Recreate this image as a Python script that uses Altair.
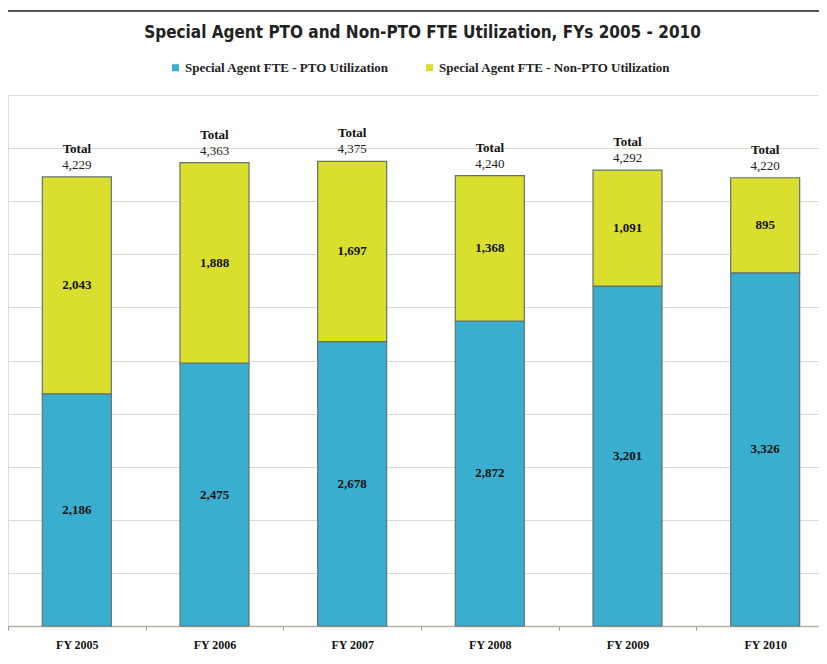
import altair as alt
import pandas as pd

years = ["FY 2005", "FY 2006", "FY 2007", "FY 2008", "FY 2009", "FY 2010"]
pto = [2186, 2475, 2678, 2872, 3201, 3326]
non_pto = [2043, 1888, 1697, 1368, 1091, 895]
totals = [4229, 4363, 4375, 4240, 4292, 4220]
series = ["Special Agent FTE - PTO Utilization", "Special Agent FTE - Non-PTO Utilization"]
colors = ["#3aaecf", "#d9df2c"]

rows = []
for i, y in enumerate(years):
    rows.append({"year": y, "series": series[0], "order": 0, "value": pto[i],
                 "lo": 0, "hi": pto[i], "mid": pto[i] / 2})
    rows.append({"year": y, "series": series[1], "order": 1, "value": non_pto[i],
                 "lo": pto[i], "hi": pto[i] + non_pto[i], "mid": pto[i] + non_pto[i] / 2})
df = pd.DataFrame(rows)
tdf = pd.DataFrame({"year": years, "total": totals})

W, H = 811, 531
SERIF = "Liberation Serif"

x = alt.X("year:N", sort=years, title=None,
          scale=alt.Scale(range=[0, 826], paddingInner=0, paddingOuter=0),
          axis=alt.Axis(labelAngle=0, labelFont=SERIF, labelFontWeight="bold",
                        labelFontSize=12, labelColor="#111", labelPadding=9,
                        tickBand="extent", tickSize=4, tickColor="#999",
                        domainColor="#b5b1a5", domainWidth=1.5, grid=False))
yscale = alt.Scale(domain=[0, 5000], nice=False)
yaxis = alt.Axis(values=list(range(0, 4501, 500)), labels=False, ticks=False,
                 domain=False, grid=True, gridColor="#dddcd1", gridWidth=1.2)

bars = alt.Chart(df).mark_bar(size=69, stroke="#637270", strokeWidth=1.2).encode(
    x=x,
    y=alt.Y("lo:Q", scale=yscale, axis=yaxis, title=None),
    y2="hi:Q",
    color=alt.Color("series:N", sort=series,
                    scale=alt.Scale(domain=series, range=colors),
                    legend=alt.Legend(title=None, orient="none", direction="horizontal",
                                      legendX=161, legendY=-34,
                                      symbolType="square", symbolSize=50,
                                      symbolStrokeWidth=0, labelFont=SERIF,
                                      labelFontWeight="bold", labelFontSize=13,
                                      labelColor="#222", columnPadding=34,
                                      labelOffset=3, labelLimit=400)),
)

seg_text = alt.Chart(df).mark_text(font=SERIF, fontWeight="bold", fontSize=13,
                                   color="#111", baseline="middle").encode(
    x=alt.X("year:N", sort=years),
    y=alt.Y("mid:Q", scale=yscale),
    text=alt.Text("value:Q", format=","),
)

tot_word = alt.Chart(tdf).mark_text(font=SERIF, fontWeight="bold", fontSize=13,
                                    color="#111", baseline="middle", dy=-28).encode(
    x=alt.X("year:N", sort=years),
    y=alt.Y("total:Q", scale=yscale),
    text=alt.value("Total"),
)
tot_num = alt.Chart(tdf).mark_text(font=SERIF, fontSize=13, color="#222",
                                   baseline="middle", dy=-12).encode(
    x=alt.X("year:N", sort=years),
    y=alt.Y("total:Q", scale=yscale),
    text=alt.Text("total:Q", format=","),
)

frame_top = alt.Chart(tdf).mark_rule(color="#555", strokeWidth=2).encode(
    x=alt.value(-1), x2=alt.value(W), y=alt.value(-84))
frame_left = alt.Chart(tdf).mark_rule(color="#555", strokeWidth=2).encode(
    x=alt.value(-1), y=alt.value(-84), y2=alt.value(H + 30))

chart = alt.layer(bars, seg_text, tot_word, tot_num, frame_top, frame_left).properties(
    width=W, height=H,
    autosize=alt.AutoSizeParams(type="none"),
    padding={"left": 0, "top": 87, "right": 0, "bottom": 28},
    title=alt.TitleParams(
        "Special Agent PTO and Non-PTO FTE Utilization, FYs 2005 - 2010",
        font="Liberation Sans Narrow, DejaVu Sans Condensed, sans-serif",
        fontSize=17, fontWeight="bold", color="#222", anchor="middle",
        offset=-32, dx=9),
).configure_view(fill="#ecebe2", stroke=None).configure(background="white")

chart.save("out.html", embed_options={"renderer": "svg", "actions": False})
